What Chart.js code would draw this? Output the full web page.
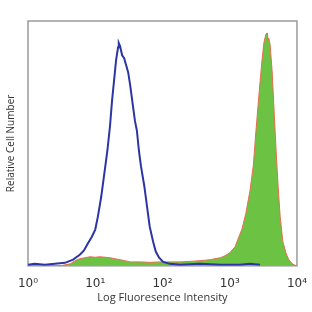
<!DOCTYPE html>
<html lang="en">
<head>
    <meta charset="UTF-8">
    <title>Log Fluoresence Intensity</title>
    <script src="https://cdn.jsdelivr.net/npm/chart.js"></script>
    <style>
        html, body { margin: 0; padding: 0; background: #ffffff; }
        .wrap { width: 312px; height: 312px; }
    </style>
</head>
<body>
    <div class="wrap"><canvas id="histChart" width="312" height="312"></canvas></div>
    <script>
        // x positions are in decades (log10 of intensity), y is relative cell number (0-100)
        const blueLog = [0, 0.10, 0.25, 0.40, 0.55, 0.67, 0.77, 0.83, 0.89, 0.95, 1.00, 1.04, 1.09, 1.13, 1.18, 1.22, 1.25, 1.28, 1.31, 1.34, 1.35, 1.37, 1.40, 1.43, 1.46, 1.49, 1.52, 1.55, 1.59, 1.62, 1.65, 1.68, 1.73, 1.77, 1.81, 1.86, 1.90, 1.95, 2.01, 2.11, 2.26, 2.56, 2.86, 3.15, 3.30, 3.45];
        const blueCount = [0.4, 0.8, 0.4, 0.8, 1.2, 2.5, 4.5, 6.2, 9.1, 11.9, 14.8, 20.2, 28.4, 36.6, 46.9, 57.2, 67.5, 75.7, 84.0, 89.3, 91.0, 89.7, 86.0, 84.8, 81.9, 79.0, 73.7, 67.5, 59.3, 55.1, 46.9, 40.7, 32.5, 24.3, 16.0, 9.9, 5.8, 3.3, 1.6, 0.8, 0.4, 0.8, 0.4, 0.4, 0.8, 0.4];

        const greenLog = [0, 0.48, 0.63, 0.70, 0.77, 0.85, 0.92, 1.00, 1.07, 1.15, 1.22, 1.29, 1.37, 1.44, 1.52, 1.67, 1.81, 1.96, 2.11, 2.26, 2.41, 2.56, 2.71, 2.78, 2.86, 2.93, 3.00, 3.08, 3.12, 3.18, 3.24, 3.30, 3.35, 3.39, 3.44, 3.48, 3.51, 3.54, 3.56, 3.57, 3.58, 3.60, 3.63, 3.66, 3.69, 3.72, 3.75, 3.79, 3.84, 3.88, 3.93, 3.97, 4.0];
        const greenCount = [0, 0, 0.8, 2.1, 2.9, 3.3, 3.7, 3.5, 3.7, 3.5, 3.3, 2.9, 2.5, 2.1, 1.6, 1.6, 1.4, 1.6, 1.6, 1.6, 1.8, 2.1, 2.5, 2.9, 3.3, 4.1, 5.3, 7.8, 10.7, 14.8, 21.4, 30.5, 40.7, 55.1, 71.6, 84.0, 91.4, 94.7, 95.1, 92.2, 93.0, 90.5, 79.8, 63.4, 46.9, 32.5, 20.2, 9.9, 4.9, 2.5, 0.8, 0.2, 0];

        const decadeLabels = ['10\u2070', '10\u00b9', '10\u00b2', '10\u00b3', '10\u2074'];

        const toPoints = (xs, ys) => xs.map((x, i) => ({ x: x, y: ys[i] }));

        // grey frame round the plot area
        const frame = {
            id: 'frame',
            beforeDatasetsDraw(chart) {
                const a = chart.chartArea;
                const ctx = chart.ctx;
                ctx.save();
                ctx.strokeStyle = '#9a9a9a';
                ctx.lineWidth = 1.5;
                ctx.strokeRect(a.left, a.top, a.right - a.left, a.bottom - a.top);
                ctx.restore();
            }
        };

        new Chart(document.getElementById('histChart'), {
            type: 'line',
            data: {
                datasets: [{
                    label: 'Isotype',
                    data: toPoints(blueLog, blueCount),
                    borderColor: '#2b35a3',
                    borderWidth: 2,
                    fill: false,
                    pointRadius: 0,
                    tension: 0
                }, {
                    label: 'Stained',
                    data: toPoints(greenLog, greenCount),
                    borderColor: '#e4704e',
                    backgroundColor: '#6cc243',
                    borderWidth: 1,
                    fill: 'origin',
                    pointRadius: 0,
                    tension: 0
                }]
            },
            options: {
                responsive: false,
                animation: false,
                layout: { padding: { left: 3, right: 2, top: 21, bottom: 8 } },
                plugins: { legend: { display: false }, tooltip: { enabled: false } },
                scales: {
                    x: {
                        type: 'linear',
                        min: 0,
                        max: 4,
                        // invisible tick marks only push the labels down
                        grid: { display: false, drawTicks: true, tickLength: 7 },
                        border: { display: false },
                        ticks: {
                            stepSize: 1,
                            padding: 5,
                            color: '#333',
                            font: { family: 'DejaVu Sans', size: 12, lineHeight: 1 },
                            callback: (v) => decadeLabels[v]
                        },
                        title: {
                            display: true,
                            text: 'Log Fluoresence Intensity',
                            color: '#333',
                            font: { family: 'Open Sans', size: 11 },
                            padding: { top: -4, bottom: 0 }
                        }
                    },
                    y: {
                        min: 0,
                        max: 100,
                        grid: { display: false, drawTicks: false },
                        border: { display: false },
                        ticks: { display: false },
                        title: {
                            display: true,
                            text: 'Relative Cell Number',
                            color: '#333',
                            font: { family: 'Open Sans', size: 10 },
                            padding: { top: 2, bottom: 11 }
                        }
                    }
                }
            },
            plugins: [frame]
        });
    </script>
</body>
</html>
